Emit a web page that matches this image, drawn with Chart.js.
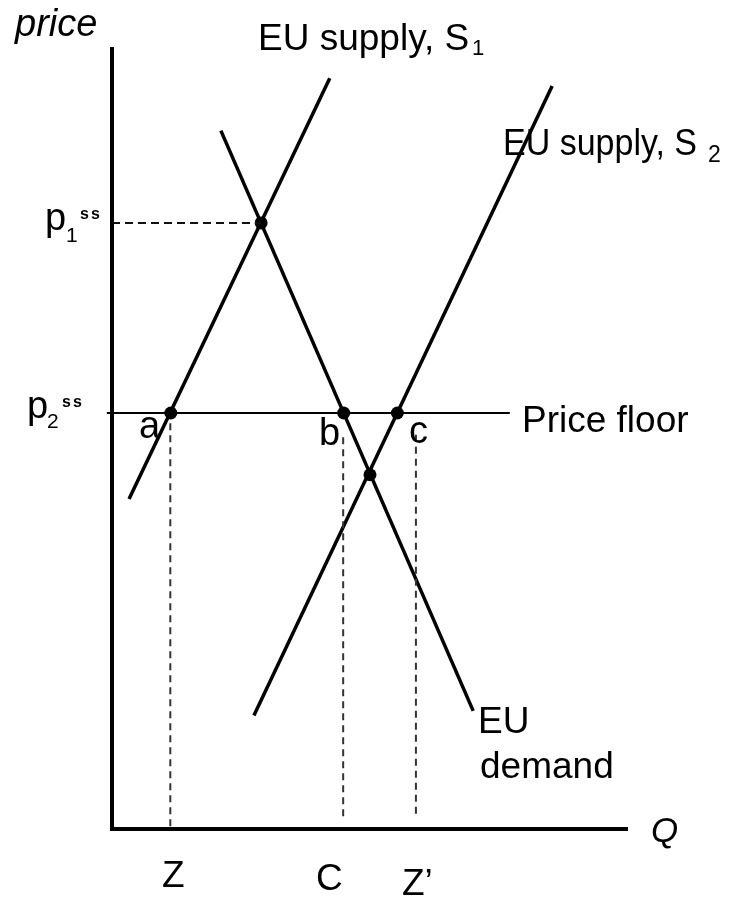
<!DOCTYPE html>
<html>
<head>
<meta charset="utf-8">
<script src="https://cdn.jsdelivr.net/npm/chart.js@4/dist/chart.umd.min.js"></script>
<style>
  html, body { margin: 0; padding: 0; background: #ffffff; }
  #wrap { width: 736px; height: 898px; }
</style>
</head>
<body>
<div id="wrap"><canvas id="c" width="736" height="898"></canvas></div>
<script>
// ---------- data (quantity Q on x, price on y; arbitrary units 0..10) ----------
const qRange = [0, 10];
const pRange = [0, 10];

const supply1Q = [0.33, 4.22];
const supply1P = [4.22, 9.60];

const supply2Q = [2.75, 8.53];
const supply2P = [1.45, 9.50];

const demandQ = [2.11, 7.00];
const demandP = [8.93, 1.51];

const priceFloorP = 5.32;
const priceFloorQ = [-0.10, 7.71];

const p1ssP = 7.75;
const p1ssQ = 2.89;

const floorPointLabels = ['a', 'b', 'c'];
const floorPointQ = [1.14, 4.49, 5.53];

const newEquilibriumQ = 5.00;
const newEquilibriumP = 4.53;

const qTickLabels = ['Z', 'C', 'Z\u2019'];
const qGuideQ = [1.13, 4.48, 5.89];
const qGuideTopP = [5.19, 5.01, 5.04];
const qGuideBottomP = [0.00, 0.15, 0.18];

// ---------- build datasets ----------
const pts = (qs, ps) => qs.map((q, i) => ({ x: q, y: ps[i] }));

const datasets = [];
// axes
datasets.push({ data: [{ x: 0, y: pRange[1] }, { x: 0, y: 0 }, { x: qRange[1], y: 0 }],
  showLine: true, borderColor: '#000', borderWidth: 4, pointRadius: 0, clip: false,
  borderJoinStyle: 'miter' });
// p1 dashed guide
datasets.push({ data: [{ x: 0, y: p1ssP }, { x: p1ssQ, y: p1ssP }],
  showLine: true, borderColor: '#111', borderWidth: 2, borderDash: [8, 5], pointRadius: 0, clip: false });
// vertical dashed guides
qGuideQ.forEach((q, i) => {
  datasets.push({ data: [{ x: q, y: qGuideTopP[i] }, { x: q, y: qGuideBottomP[i] }],
    showLine: true, borderColor: '#333', borderWidth: 2, borderDash: [7, 5], pointRadius: 0, clip: false });
});
// price floor
datasets.push({ data: [{ x: priceFloorQ[0], y: priceFloorP }, { x: priceFloorQ[1], y: priceFloorP }],
  showLine: true, borderColor: '#000', borderWidth: 2, pointRadius: 0, clip: false });
// curves
[[supply1Q, supply1P], [supply2Q, supply2P], [demandQ, demandP]].forEach(([q, p]) => {
  datasets.push({ data: pts(q, p), showLine: true, borderColor: '#000', borderWidth: 3.5,
    pointRadius: 0, clip: false });
});
// intersection dots
const dots = floorPointQ.map(q => ({ x: q, y: priceFloorP }));
dots.push({ x: p1ssQ, y: p1ssP });
dots.push({ x: newEquilibriumQ, y: newEquilibriumP });
datasets.push({ data: dots, showLine: false, pointRadius: 6.5, pointBackgroundColor: '#000',
  pointBorderColor: '#000', pointBorderWidth: 0, clip: false });

// ---------- text annotations ----------
const FONT = '"Liberation Sans", Arial, sans-serif';
const labelText = [
  { t: 'price', x: 15, y: 36, size: 38, italic: true },
  { t: 'EU supply, S', x: 258, y: 50, size: 37 },
  { t: '1', x: 472, y: 55, size: 22 },
  { t: 'EU supply, S', x: 503, y: 155, size: 37, maxW: 194 },
  { t: '2', x: 708, y: 162, size: 23 },
  { t: 'p', x: 45, y: 230, size: 38 },
  { t: '1', x: 66, y: 242, size: 21 },
  { t: 'ss', x: 80, y: 219, size: 16, bold: true, ls: 2 },
  { t: 'p', x: 27, y: 418, size: 38 },
  { t: '2', x: 47, y: 428, size: 21 },
  { t: 'ss', x: 62, y: 407, size: 16, bold: true, ls: 2 },
  { t: floorPointLabels[0], x: 139, y: 438, size: 38 },
  { t: floorPointLabels[1], x: 319, y: 445, size: 38 },
  { t: floorPointLabels[2], x: 409, y: 443, size: 38 },
  { t: 'Price floor', x: 522, y: 432, size: 37 },
  { t: 'EU', x: 478, y: 733, size: 37 },
  { t: 'demand', x: 480, y: 778, size: 37 },
  { t: qTickLabels[0], x: 162, y: 887, size: 37 },
  { t: qTickLabels[1], x: 316, y: 890, size: 37 },
  { t: qTickLabels[2], x: 402, y: 895, size: 37 },
  { t: 'Q', x: 651, y: 842, size: 35, italic: true }
];

const textPlugin = {
  id: 'textPlugin',
  afterDatasetsDraw(chart) {
    const ctx = chart.ctx;
    ctx.save();
    ctx.fillStyle = '#000';
    ctx.textAlign = 'left';
    ctx.textBaseline = 'alphabetic';
    labelText.forEach(l => {
      ctx.font = (l.italic ? 'italic ' : '') + (l.bold ? 'bold ' : '') + l.size + 'px ' + FONT;
      ctx.letterSpacing = (l.ls || 0) + 'px';
      if (l.maxW) ctx.fillText(l.t, l.x, l.y, l.maxW);
      else ctx.fillText(l.t, l.x, l.y);
    });
    ctx.restore();
  }
};

new Chart(document.getElementById('c'), {
  type: 'scatter',
  data: { datasets },
  options: {
    responsive: false,
    animation: false,
    devicePixelRatio: 1,
    layout: { padding: { left: 112, right: 108, top: 47, bottom: 69 } },
    scales: {
      x: { type: 'linear', min: qRange[0], max: qRange[1], display: false },
      y: { type: 'linear', min: pRange[0], max: pRange[1], display: false }
    },
    plugins: { legend: { display: false }, tooltip: { enabled: false } },
    elements: { line: { tension: 0 } }
  },
  plugins: [textPlugin]
});
</script>
</body>
</html>
